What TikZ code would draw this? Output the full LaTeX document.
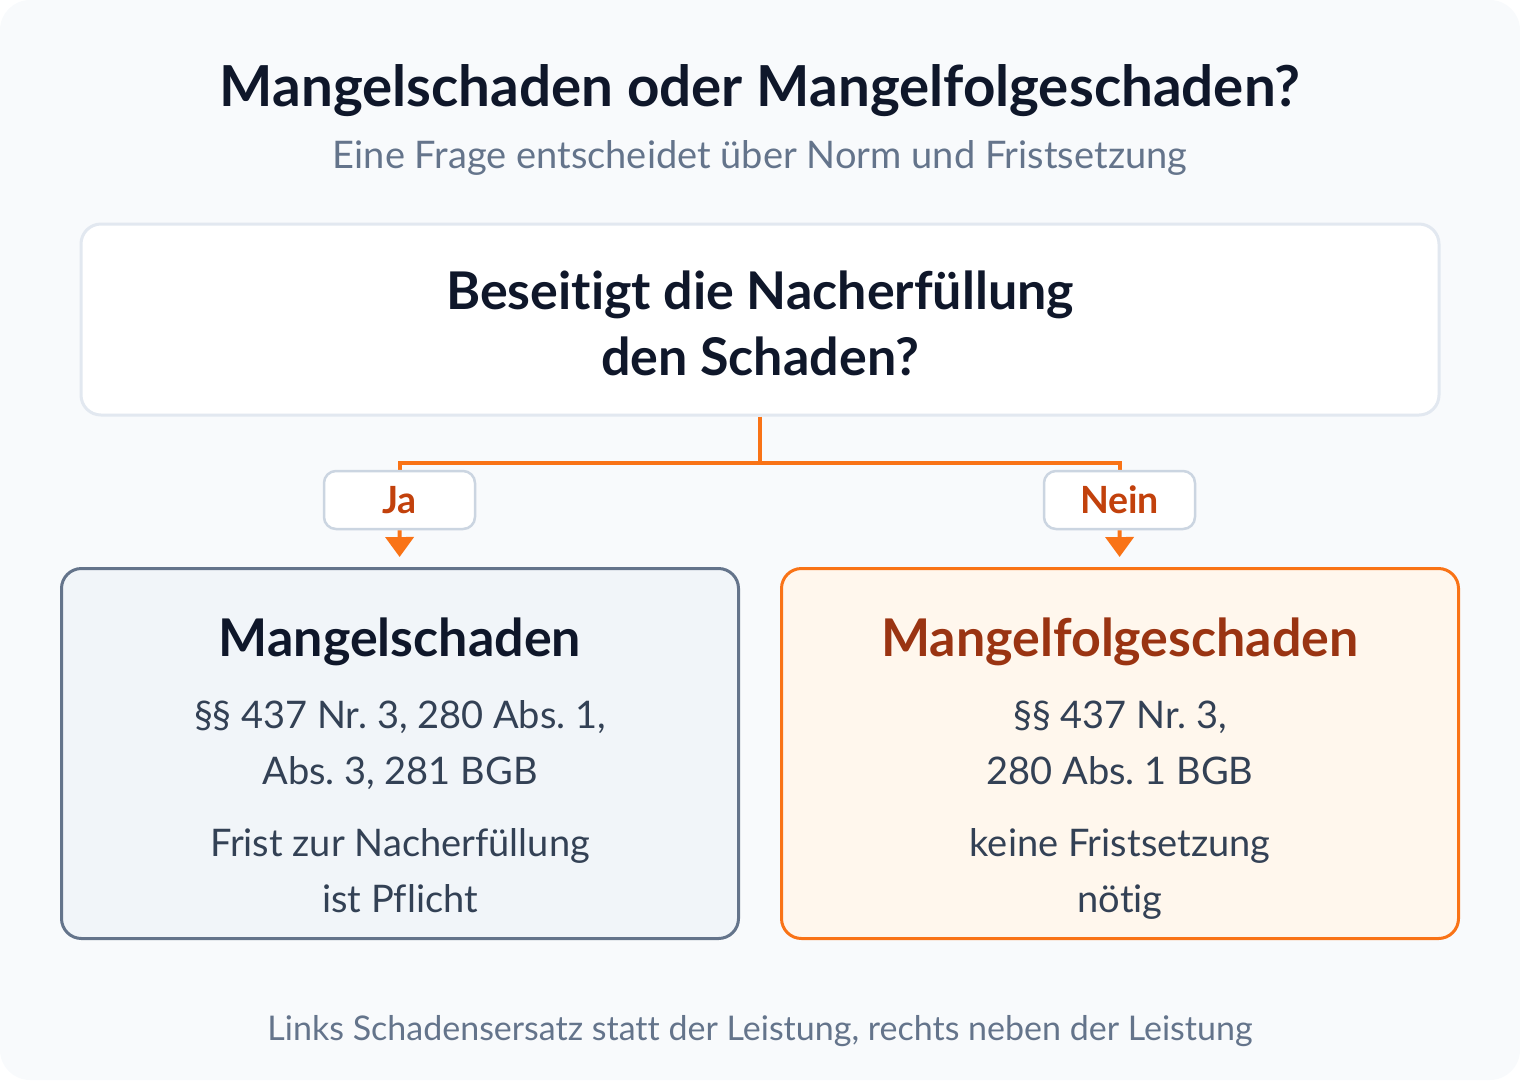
\documentclass[tikz,border=0pt]{standalone}
\usepackage{fontspec}
\setmainfont{Lato}[Ligatures=NoCommon]
\usetikzlibrary{arrows.meta}
\frenchspacing
\definecolor{pagebg}{HTML}{F8FAFC}
\definecolor{ink}{HTML}{0F172A}
\definecolor{slate}{HTML}{64748B}
\definecolor{bodyink}{HTML}{334155}
\definecolor{qborder}{HTML}{E2E8F0}
\definecolor{tagborder}{HTML}{CBD5E1}
\definecolor{orangeline}{HTML}{F97316}
\definecolor{tagink}{HTML}{C2410C}
\definecolor{leftfill}{HTML}{F1F5F9}
\definecolor{rightfill}{HTML}{FFF7ED}
\definecolor{rightink}{HTML}{9A3412}

\begin{document}
\begin{tikzpicture}[x=1pt,y=-1pt,
    every node/.style = {align=center, inner sep=0pt},
    card/.style={draw, rounded corners=20pt, line width=3pt,
        minimum width=677pt, minimum height=370pt},
    cleft/.style={card, draw=slate, fill=leftfill},
    cright/.style={card, draw=orangeline, fill=rightfill},
    tag/.style={draw=tagborder, fill=white, line width=2.5pt,
        rounded corners=12pt, minimum width=151pt, minimum height=58pt,
        font=\fontsize{37.5}{40}\selectfont\bfseries, text=tagink},
    wire/.style={draw=orangeline, line width=4pt},
    head/.style={anchor=base, font=\fontsize{52}{56}\selectfont\bfseries, text=ink},
    line/.style={anchor=base, font=\fontsize{38}{42}\selectfont, text=bodyink}]
    \useasboundingbox (0,0) rectangle (1520,1080);
    \fill[pagebg, rounded corners=30pt] (0,0) rectangle (1520,1080);

    % heading
    \node[anchor=base, font=\fontsize{56.5}{60}\selectfont\bfseries, text=ink] (t) at (760,106) {Mangelschaden oder Mangelfolgeschaden?};
    \node[anchor=base, font=\fontsize{38}{42}\selectfont, text=slate] (s) at (760,168) {Eine Frage entscheidet über Norm und Fristsetzung};

    % question
    \node[draw=qborder, fill=white, line width=3pt, rounded corners=20pt,
        minimum width=1358pt, minimum height=191pt] (q) at (760,319.5) {};
    \node[head] (q1) at (760,309) {Beseitigt die Nacherfüllung};
    \node[head] (q2) at (760,375) {den Schaden?};

    % branches
    \coordinate (split) at (760,463);
    \draw[wire] (q.south) -- (split);
    \draw[wire] (399.5,478) |- (split) -| (1119.5,478);
    \node[tag] (ja) at (399.5,500) {Ja};
    \node[tag] (nein) at (1119.5,500) {Nein};

    % results
    \node[cleft] (links) at (400,753.5) {};
    \node[cright] (rechts) at (1120,753.5) {};
    \path[wire]
        (ja) edge[wire, -{Triangle[width=28pt,length=20pt]}, shorten >=10pt] (links)
        (nein) edge[wire, -{Triangle[width=28pt,length=20pt]}, shorten >=10pt] (rechts);

    \node[head] (l1) at (400,656) {Mangelschaden};
    \node[line] (l2) at (400,728) {§§ 437 Nr. 3, 280 Abs. 1,};
    \node[line] (l3) at (400,784) {Abs. 3, 281 BGB};
    \node[line] (l4) at (400,856) {Frist zur Nacherfüllung};
    \node[line] (l5) at (400,912) {ist Pflicht};

    \node[head, text=rightink] (r1) at (1120,656) {Mangelfolgeschaden};
    \node[line] (r2) at (1120,728) {§§ 437 Nr. 3,};
    \node[line] (r3) at (1120,784) {280 Abs. 1 BGB};
    \node[line] (r4) at (1120,856) {keine Fristsetzung};
    \node[line] (r5) at (1120,912) {nötig};

    % footer
    \node[anchor=base, font=\fontsize{34}{38}\selectfont, text=slate] (f) at (760,1040) {Links Schadensersatz statt der Leistung, rechts neben der Leistung};
\end{tikzpicture}
\end{document}
